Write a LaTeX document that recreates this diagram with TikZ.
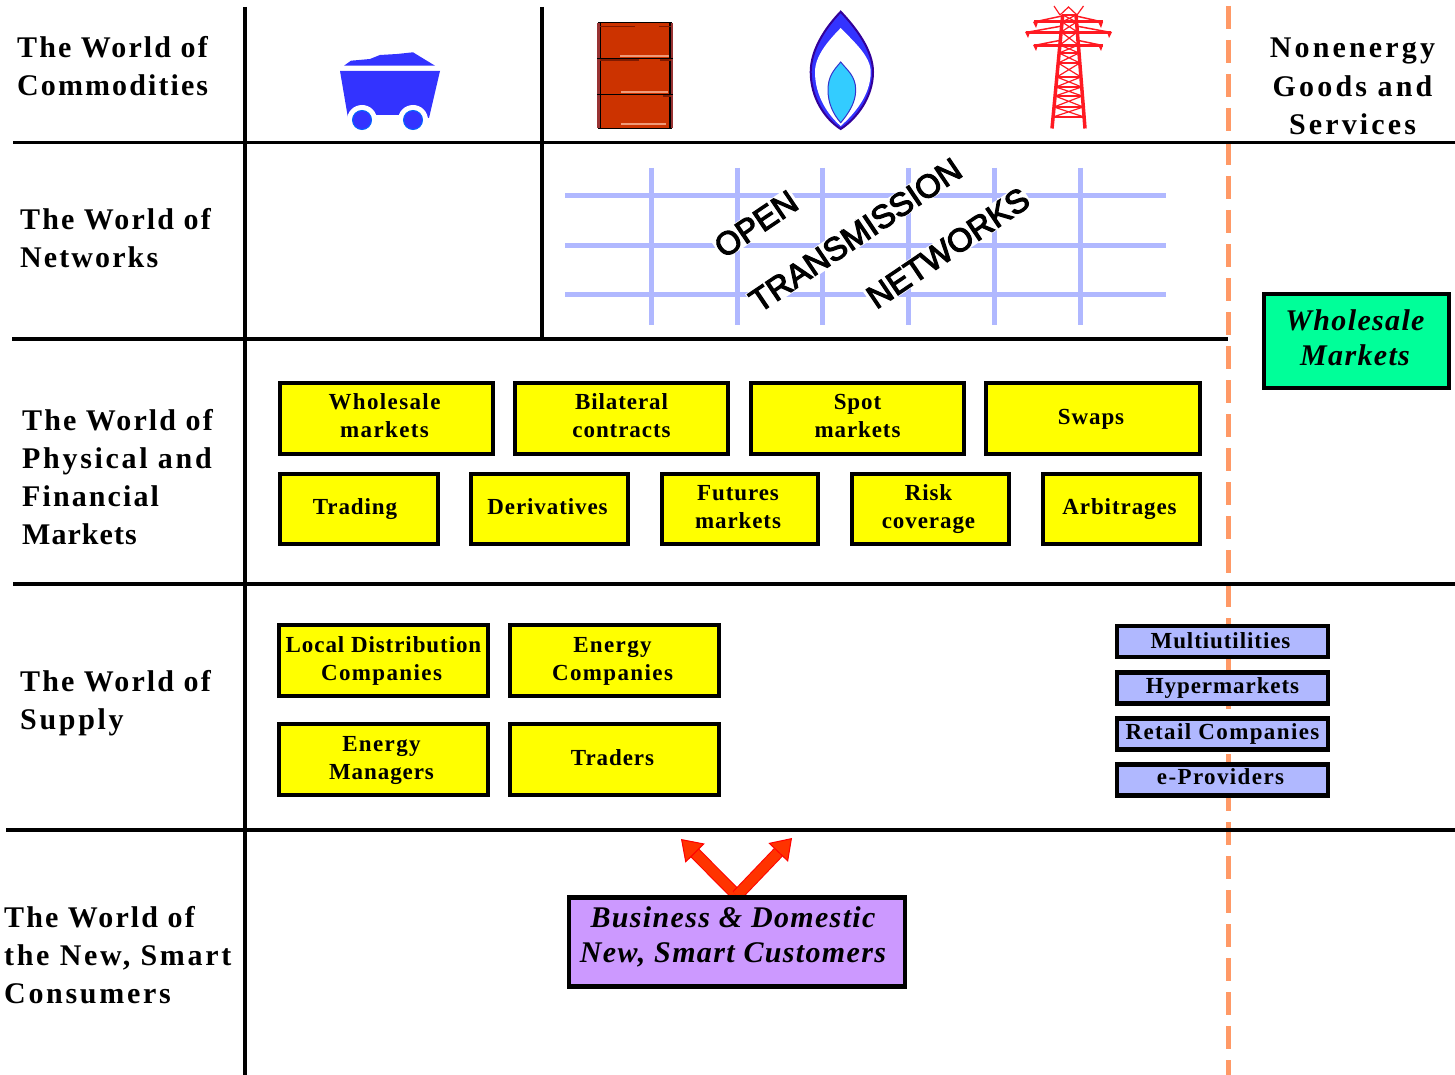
\documentclass[tikz,border=0pt]{standalone}
\usepackage{fontspec}
\usetikzlibrary{arrows.meta}
\newfontfamily\lblfont[LetterSpace=9]{Liberation Serif Bold}
\newfontfamily\lblnarrow[LetterSpace=7]{Liberation Serif Bold}
\newfontfamily\lbltight[LetterSpace=3.5]{Liberation Serif Bold}
\newfontfamily\lblwide[LetterSpace=10.5]{Liberation Serif Bold}
\newfontfamily\boxfont[LetterSpace=4]{Liberation Serif Bold}
\newfontfamily\widefont[LetterSpace=6]{Liberation Serif Bold}
\newfontfamily\itfont[LetterSpace=4.5]{Liberation Serif Bold Italic}
\newfontfamily\netfont[FakeBold=3.5]{Liberation Sans}
\newcommand{\hs}{\hspace*{4pt}}
\definecolor{gridblue}{HTML}{B0B8FF}
\definecolor{dashor}{HTML}{FF9966}
\definecolor{cartblue}{HTML}{3333FF}
\definecolor{wheelblue}{HTML}{0066FF}
\definecolor{barrelred}{HTML}{CC3300}
\definecolor{barrelband}{HTML}{993333}
\definecolor{barreldark}{HTML}{801A00}
\definecolor{barrellight}{HTML}{F09A78}
\definecolor{flameline}{HTML}{330099}
\definecolor{flamecore}{HTML}{33CCFF}
\definecolor{coreline}{HTML}{3333CC}
\definecolor{towerred}{HTML}{FF1A22}
\definecolor{boxyellow}{HTML}{FFFF00}
\definecolor{boxgreen}{HTML}{00FF99}
\definecolor{boxviolet}{HTML}{CC99FF}
\definecolor{arrowfill}{HTML}{FF3300}
\definecolor{arrowline}{HTML}{FF0000}
\tikzset{
  x=1pt,y=-1pt,
  rule/.style={line width=3.2pt,black},
  vrule/.style={line width=4.4pt,black},
  sidelabel/.style={anchor=west,align=left,inner sep=0pt,font=\lblfont\fontsize{30}{38.2}\selectfont},
  boxbase/.style={draw=black,line width=4.4pt,inner sep=0pt,align=center},
  tb/.style={text depth=0pt,text height=#1pt},
  ybox/.style={boxbase,fill=boxyellow,font=\boxfont\fontsize{23}{28}\selectfont},
  bbox/.style={boxbase,fill=gridblue,minimum width=211pt,minimum height=31pt,font=\boxfont\fontsize{23}{28}\selectfont},
  itbox/.style={boxbase,font=\itfont\fontsize{30}{35}\selectfont},
  netlabel/.style={rotate=34,fill=white,inner sep=1pt,font=\netfont\fontsize{32.5}{33}\selectfont},
  gridline/.style={line width=5pt,gridblue},
  blockarrow/.style={draw=arrowline,line width=1pt,double=arrowfill,double distance=10pt,
    -{Triangle[length=20pt,width=27pt,fill=arrowfill,line width=1pt]}},
}
\begin{document}
\begin{tikzpicture}
\useasboundingbox (0,0) rectangle (1455,1075);
\fill[white] (0,0) rectangle (1455,1075);

% dashed divider
\draw[line width=5pt,dashor,dash pattern=on 23pt off 11pt] (1228.5,6) -- (1228.5,1075);

% rules
\draw[rule] (13,142.5) -- (1455,142.5);
\draw[rule] (12,339) -- (1228,339);
\draw[rule] (13,584) -- (1455,584);
\draw[rule] (6,830) -- (1455,830);
\draw[vrule] (245,7) -- (245,1075);
\draw[vrule] (542,7) -- (542,339);

% side labels
\node[sidelabel] (lc) at (17,66) {\lblnarrow The World of\\\lblnarrow Commodities};
\node[sidelabel] (ln) at (20,238) {\lblnarrow The World of\\\lblnarrow Networks};
\node[sidelabel] (lm) at (22,477) {\lblnarrow The World of\\Physical and\\\lblnarrow Financial\\\lbltight Markets};
\node[sidelabel] (ls) at (20,703) {\lblnarrow The World of\\Supply};
\node[sidelabel] (lk) at (4,955) {\lblnarrow The World of\\the New, Smart\\Consumers};
\node[sidelabel,anchor=center,align=center,font=\lblwide\fontsize{30}{38.2}\selectfont] (lg) at (1352.5,86.5) {Nonenergy\\Goods and\\Services};

% coal cart
\fill[cartblue] (344,65.7) -- (351,60.7) -- (370,59) -- (380,55) -- (397,54) -- (413,52.3) -- (435,65.7) -- cycle;
\fill[cartblue] (340,71) -- (440,71) -- (429,118) -- (348,118) -- cycle;
\fill[white] (362,120) circle (15) (413,120) circle (15);
\fill[white] (362,115) rectangle (413,135);
\filldraw[fill=cartblue,draw=wheelblue,line width=1pt] (362,120) circle (9.5) (413,120) circle (9.5);

% barrel
\fill[barrelred] (598,23) rectangle (672,128);
\fill[barrelband] (597,23) rectangle (600,128);
\fill[barrelband] (670.5,23) rectangle (673,128);
\draw[line width=1.7pt,black] (598,22.5) -- (672,22.5) (598,128.5) -- (672,128.5);
\draw[line width=1.5pt,black] (600.5,23) -- (600.5,128) (670,23) -- (670,128);
\draw[line width=1.2pt,black] (597,58.5) -- (673,58.5) (597,94.5) -- (673,94.5);
\draw[line width=1.7pt,barreldark] (600,26.5) -- (635,26.5) (659,26.5) -- (671,26.5)
  (600,60) -- (639,60) (660,60) -- (671,60) (663,96) -- (671,96);
\draw[line width=1.5pt,barrellight] (620,56) -- (669,56) (621,92) -- (668,92) (621,124) -- (666,124);

% flame
\filldraw[fill=cartblue,draw=flameline,line width=2pt]
  (840.7,11.7) .. controls (825,28) and (810.7,50) .. (810.7,72)
  .. controls (810.7,98) and (825,119) .. (840.7,129)
  .. controls (856,119) and (873,98) .. (873,72)
  .. controls (873,50) and (856,28) .. (840.7,11.7) -- cycle;
\fill[white]
  (840.7,28) .. controls (828,41) and (815,56) .. (815,72)
  .. controls (815,96) and (828,115) .. (840.7,126)
  .. controls (853,115) and (870.7,96) .. (870.7,72)
  .. controls (870.7,56) and (853,41) .. (840.7,28) -- cycle;
\filldraw[fill=flamecore,draw=coreline,line width=1pt]
  (840.7,62) .. controls (834,70) and (828,76) .. (828,90)
  .. controls (828,103) and (833,114) .. (840.7,122.7)
  .. controls (848,114) and (855.7,103) .. (855.7,90)
  .. controls (855.7,76) and (847,70) .. (840.7,62) -- cycle;

% pylon
\begin{scope}[towerred]
  \draw[line width=3.5pt] (1052,128.5) -- (1062.7,15) (1085,128.5) -- (1076,15);
  \draw[line width=1.2pt] (1054,6) -- (1060,15) (1083.5,6) -- (1077,15)
    (1060,15) -- (1068.5,7) -- (1077,15);
  \draw[line width=2.5pt] (1062,15) -- (1076,15);
  \draw[line width=3pt] (1034,22) -- (1102.5,22) (1026,32.5) -- (1111,32.5) (1034,45.5) -- (1102.5,45.5);
  \draw[line width=1.5pt] (1034,22) -- (1062,16) (1102.5,22) -- (1076,16)
    (1026,32.5) -- (1062,26) (1111,32.5) -- (1076,26)
    (1034,45.5) -- (1062,40) (1102.5,45.5) -- (1076,40);
  \fill (1033,22) -- (1038,22) -- (1036,28) -- cycle (1103,22) -- (1098,22) -- (1101,28) -- cycle
    (1025,32) -- (1030,32) -- (1028,38) -- cycle (1112,32) -- (1107,32) -- (1109,38) -- cycle
    (1033,45) -- (1038,45) -- (1036,51) -- cycle (1103,45) -- (1098,45) -- (1101,51) -- cycle;
  \foreach \a/\b in {15/22,22/32,32/45,45/53,53/63,63/77,77/87,87/96,96/107,107/117}{
    \pgfmathsetmacro{\la}{1052+(128.5-\a)*0.0943}
    \pgfmathsetmacro{\lb}{1052+(128.5-\b)*0.0943}
    \pgfmathsetmacro{\ra}{1085-(128.5-\a)*0.0793}
    \pgfmathsetmacro{\rb}{1085-(128.5-\b)*0.0793}
    \draw[line width=1.2pt] (\la,\a) -- (\rb,\b) (\ra,\a) -- (\lb,\b);
    \draw[line width=2.2pt] (\lb,\b) -- (\rb,\b);
  }
\end{scope}

% grid
\foreach \gy/\gn in {195.5/a,245.5/b,294.5/c}{
  \coordinate (gl\gn) at (565,\gy);
  \coordinate (gr\gn) at (1166,\gy);
  \draw[gridline] (gl\gn) -- (gr\gn);
}
\foreach \gx/\gn in {651/a,737/b,822/c,908/d,994/e,1080/f}{
  \coordinate (gt\gn) at (\gx,168);
  \coordinate (gb\gn) at (\gx,325);
  \draw[gridline] (gt\gn) -- (gb\gn);
}
\node[netlabel] (nopen) at (756,224) {OPEN};
\node[netlabel] (ntrans) at (855.5,235) {TRANSMISSION};
\node[netlabel] (nnet) at (948,248) {NETWORKS};

% markets
\node[ybox,tb=37,minimum width=213pt,minimum height=71pt] (w1) at (386.5,418.5) {\widefont Wholesale\hs\\\widefont markets\hs};
\node[ybox,tb=37,minimum width=213pt,minimum height=71pt] (w2) at (621.5,418.5) {Bilateral\\contracts};
\node[ybox,tb=37,minimum width=213pt,minimum height=71pt] (w3) at (857.5,418.5) {Spot\\markets};
\node[ybox,tb=11,minimum width=214pt,minimum height=71pt] (w4) at (1093,418.5) {Swaps\hs};
\node[ybox,tb=10,minimum width=158pt,minimum height=70pt] (m1) at (359,509) {Trading\hs\hs};
\node[ybox,tb=10,minimum width=157pt,minimum height=70pt] (m2) at (549.5,509) {Derivatives\hs};
\node[ybox,tb=38,minimum width=156pt,minimum height=70pt] (m3) at (740,509) {Futures\hs\\markets\hs};
\node[ybox,tb=38,minimum width=157pt,minimum height=70pt] (m4) at (930.5,509) {Risk\hs\\coverage\hs};
\node[ybox,tb=10,minimum width=157pt,minimum height=70pt] (m5) at (1121.5,509) {Arbitrages\hs};

% supply
\node[ybox,tb=39,minimum width=209pt,minimum height=71pt] (s1) at (383.5,660.5) {Local Distribution\\\widefont Companies\hs};
\node[ybox,tb=39,minimum width=209pt,minimum height=71pt] (s2) at (614.5,660.5) {\widefont Energy\hs\\\widefont Companies\hs};
\node[ybox,tb=39,minimum width=209pt,minimum height=71pt] (s3) at (383.5,759.5) {\widefont Energy\hs\\Managers\hs};
\node[ybox,tb=11,minimum width=209pt,minimum height=71pt] (s4) at (614.5,759.5) {Traders\hs};

% retail
\node[bbox,tb=13] (r1) at (1222.5,641.5) {Multiutilities\hs};
\node[bbox,tb=10] (r2) at (1222.5,688) {Hypermarkets};
\node[bbox,tb=10] (r3) at (1222.5,734) {\widefont Retail Companies};
\node[bbox,tb=8] (r4) at (1222.5,780) {\widefont e-Providers\hs};

% wholesale
\node[itbox,tb=48,fill=boxgreen,minimum width=185pt,minimum height=94pt] (wm) at (1356.5,341) {Wholesale\hspace*{3pt}\\Markets\hspace*{3pt}};

% customers
\coordinate (apex) at (737,895.5);
\coordinate (tipl) at (681,839);
\coordinate (tipr) at (792,838);
\draw[blockarrow] (apex) -- (tipl);
\draw[blockarrow] (apex) -- (tipr);
\node[itbox,tb=40,fill=boxviolet,minimum width=336pt,minimum height=89pt] (cust) at (737,942) {Business \& Domestic\hspace*{8pt}\\New, Smart Customers\hspace*{8pt}};
\end{tikzpicture}
\end{document}
